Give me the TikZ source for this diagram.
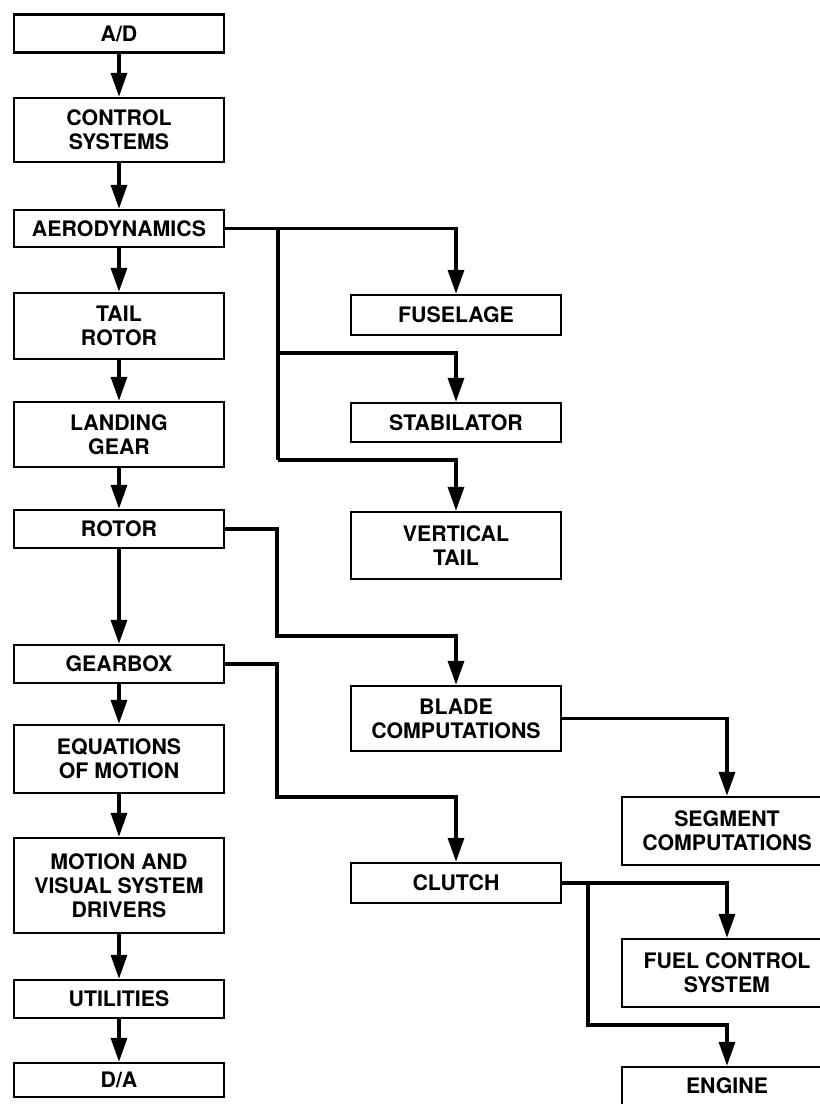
\documentclass[tikz,border=0pt]{standalone}
\usepackage{fontspec}
\setsansfont{TeX Gyre Heros}
\usetikzlibrary{arrows.meta}

\begin{document}
\begin{tikzpicture}[x=0.75pt,y=-0.75pt,
  every node/.style={draw,line width=1.8pt,rectangle,align=center,inner sep=0pt,
    minimum width=157.5pt,font=\sffamily\bfseries\fontsize{16}{18}\selectfont},
  one/.style={minimum height=28.5pt},
  two/.style={minimum height=49.5pt},
  three/.style={minimum height=71.25pt},
  link/.style={line width=2.6pt},
  arr/.style={link,-{Triangle[length=18pt,width=12pt]}}]
\useasboundingbox (0,0) rectangle (820,1104);

% main column
\node[one] (ad) at (119,33.5) {A/D};
\node[two,minimum height=48pt] (ctrl) at (119,130) {CONTROL\\SYSTEMS};
\node[one,minimum height=27.75pt] (aero) at (119,228.5) {AERODYNAMICS};
\node[two] (tail) at (119,326) {TAIL\\ROTOR};
\node[two,minimum height=48.75pt] (land) at (119,434.5) {LANDING\\GEAR};
\node[one] (rotor) at (119,529) {ROTOR};
\node[one] (gear) at (119,664) {GEARBOX};
\node[two,minimum height=51pt] (eqm) at (119,759) {EQUATIONS\\OF MOTION};
\node[three] (mvs) at (119,885.5) {MOTION AND\\VISUAL SYSTEM\\DRIVERS};
\node[one] (util) at (119,999) {UTILITIES};
\node[one,minimum height=25.5pt] (da) at (119,1080) {D/A};

% second column
\node[one,minimum height=30pt] (fus) at (456,315) {FUSELAGE};
\node[one,minimum height=29.25pt] (stab) at (456,422.5) {STABILATOR};
\node[two,minimum height=50.25pt] (vert) at (456,545.5) {VERTICAL\\TAIL};
\node[two,minimum height=48.75pt] (blade) at (456,718.5) {BLADE\\COMPUTATIONS};
\node[one,minimum height=30pt] (clutch) at (456,883) {CLUTCH};

% third column
\node[two,minimum height=51pt] (seg) at (727,831) {SEGMENT\\COMPUTATIONS};
\node[two,minimum height=51pt] (fuel) at (727,973) {FUEL CONTROL\\SYSTEM};
\node[one] (engine) at (727,1086) {ENGINE};

\foreach \a/\b in {ad/ctrl,ctrl/aero,aero/tail,tail/land,land/rotor,
                   rotor/gear,gear/eqm,eqm/mvs,mvs/util,util/da}
  \draw[arr] (\a) -- (\b);

% aerodynamics branches
\coordinate (aj) at (278,228.5);
\coordinate (sj) at (278,353);
\coordinate (vj) at (278,460);
\draw[arr] (aero.east) -| (fus.north);
\draw[link] (aj) -- (vj);
\draw[arr] (sj) -| (stab.north);
\draw[arr] (vj) -| (vert.north);

% rotor and gearbox
\coordinate (rk) at (277,636);
\coordinate (gk) at (277,797);
\draw[arr] (rotor.east) -| (rk) -| (blade.north);
\draw[arr] (gear.east) -| (gk) -| (clutch.north);
\draw[arr] (blade.east) -| (seg.north);

% clutch branches
\coordinate (cj) at (588,883);
\coordinate (ck) at (588,1025);
\draw[arr] (clutch.east) -| (fuel.north);
\draw[arr] (cj) -- (ck) -| (engine.north);
\end{tikzpicture}
\end{document}
